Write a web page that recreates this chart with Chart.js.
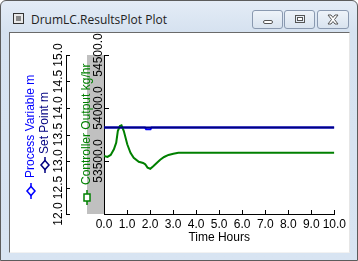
<!DOCTYPE html>
<html>
<head>
<meta charset="utf-8">
<script src="https://cdn.jsdelivr.net/npm/chart.js@4.4.0/dist/chart.umd.min.js"></script>
<style>
  body { margin: 0; width: 358px; height: 261px; overflow: hidden; background: #fff; }
  #win { position: absolute; left: 0; top: 0; width: 356px; height: 259px; border: 1px solid #5c5c5c;
         border-radius: 6px 6px 0 0; background: linear-gradient(#e4ecf6, #d6e2f0 30px, #d8e4f2); }
  #icon { position: absolute; left: 12px; top: 12px; width: 9px; height: 9px; border: 1px solid #333;
          background: #888; box-shadow: inset 0 0 0 2px #e8e8e8; }
  #title { position: absolute; left: 30px; top: 10px; font: 12px "Open Sans", "Liberation Sans", sans-serif; color: #222; }
  .btn { position: absolute; top: 9px; height: 17px; border: 1px solid #8a99b0; border-radius: 3px;
         background: linear-gradient(#eef3f9, #d9e3ef); }
  #client { position: absolute; left: 8px; top: 31px; width: 339px; height: 219px; border: 1px solid;
            border-color: #6a6a6a #e6e6e6 #f2f2f2 #6a6a6a; background: #fff; }
  canvas { position: absolute; left: 0; top: 0; }
</style>
</head>
<body>
<div id="win">
  <div id="icon"></div>
  <div id="title">DrumLC.ResultsPlot Plot</div>
  <div class="btn" style="left:251px;width:29px">
    <svg width="29" height="17"><rect x="10.5" y="9.5" width="9" height="3" rx="1.5" fill="#fff" stroke="#555"/></svg>
  </div>
  <div class="btn" style="left:283px;width:29px">
    <svg width="29" height="17"><rect x="10.5" y="4.5" width="9" height="7" fill="none" stroke="#555"/><rect x="12.5" y="6.5" width="5" height="3" fill="#fff" stroke="#555"/></svg>
  </div>
  <div class="btn" style="left:316px;width:30px">
    <svg width="30" height="17"><path d="M10 4 L13 4 L15 6.5 L17 4 L20 4 L16.5 8.5 L20 13 L17 13 L15 10.5 L13 13 L10 13 L13.5 8.5 Z" fill="#fff" stroke="#555"/></svg>
  </div>
  <div id="client"><canvas id="plot" width="339" height="219"></canvas></div>
</div>
<script>
// time axis (hours)
const timeTicks = [0, 1, 2, 3, 4, 5, 6, 7, 8, 9, 10]
// left axis, Process Variable / Set Point (m)
const pvTicks = [12.0, 12.5, 13.0, 13.5, 14.0, 14.5, 15.0]
// second left axis, Controller Output (kg/hr)
const coTicks = [53000, 53500, 54000, 54500]
const coLabels = ['', '53500.0', '54000.0', '54500.0']

const coTime = [0, 0.15, 0.29, 0.43, 0.53, 0.60, 0.69, 0.76, 0.86, 1.01, 1.15, 1.29, 1.51, 1.70, 1.79, 1.89, 2.01, 2.15, 2.30, 2.44, 2.61, 2.80, 3.01, 3.23, 10]
const controllerOutput = [53547, 53538, 53557, 53610, 53673, 53783, 53830, 53837, 53783, 53658, 53578, 53531, 53493, 53481, 53469, 53437, 53427, 53453, 53484, 53512, 53538, 53557, 53569, 53578, 53578]

const spTime = [0, 10]
const setPoint = [13.63, 13.63]

const pvTime = [0, 1.78, 1.83, 2.02, 2.06, 10]
const processVariable = [13.63, 13.63, 13.60, 13.60, 13.63, 13.63]

const FONT = '"Liberation Sans", Arial, sans-serif'

const pts = (xs, ys) => xs.map((x, i) => ({ x: x, y: ys[i] }))

function vtext(ctx, s, x, y, color, align) {
    ctx.save()
    ctx.translate(x, y)
    ctx.rotate(-Math.PI / 2)
    ctx.fillStyle = color
    ctx.textAlign = align
    ctx.textBaseline = 'middle'
    ctx.fillText(s, 0, 0)
    ctx.restore()
}

function diamond(ctx, x, y, color) {
    ctx.strokeStyle = color
    ctx.lineWidth = 1.5
    ctx.beginPath(); ctx.moveTo(x, y - 8); ctx.lineTo(x, y + 8); ctx.stroke()
    ctx.fillStyle = '#fff'
    ctx.beginPath()
    ctx.moveTo(x, y - 4.5); ctx.lineTo(x + 4, y); ctx.lineTo(x, y + 4.5); ctx.lineTo(x - 4, y); ctx.closePath()
    ctx.fill(); ctx.stroke()
}

const sidePlugin = {
    id: 'side',
    beforeDraw(chart) {
        const ctx = chart.ctx, a = chart.chartArea
        const co = chart.scales.yCO
        ctx.fillStyle = '#c0c0c0'
        ctx.fillRect(co.right - 17, a.top, 17, a.bottom - a.top)
    },
    afterDraw(chart) {
        const ctx = chart.ctx, a = chart.chartArea
        const pv = chart.scales.yPV, co = chart.scales.yCO, x = chart.scales.x
        ctx.save()
        ctx.strokeStyle = '#000'
        ctx.lineWidth = 1
        // tick marks point into the plot
        pv.ticks.forEach(t => {
            const y = Math.round(pv.getPixelForValue(t.value)) + 0.5
            ctx.beginPath(); ctx.moveTo(pv.right, y); ctx.lineTo(pv.right + 4, y); ctx.stroke()
        })
        co.ticks.forEach(t => {
            const y = Math.round(co.getPixelForValue(t.value)) + 0.5
            ctx.beginPath(); ctx.moveTo(co.right, y); ctx.lineTo(co.right + 5, y); ctx.stroke()
        })
        x.ticks.forEach(t => {
            const px = Math.round(x.getPixelForValue(t.value)) + 0.5
            ctx.beginPath(); ctx.moveTo(px, a.bottom); ctx.lineTo(px, a.bottom - 4); ctx.stroke()
        })
        ctx.font = '12px ' + FONT
        pv.ticks.forEach(t => vtext(ctx, t.value.toFixed(1), pv.right - 7.5, pv.getPixelForValue(t.value), '#000', 'center'))
        co.ticks.forEach((t, i) => vtext(ctx, coLabels[i], co.right - 5.5, co.getPixelForValue(t.value), '#000', 'center'))

        // rotated legend entries
        vtext(ctx, 'Process Variable m', 21, 145, '#0000ff', 'left')
        diamond(ctx, 21, 158, '#0000ff')
        vtext(ctx, 'Set Point m', 35, 121, '#000080', 'left')
        diamond(ctx, 35, 132, '#000080')
        vtext(ctx, 'Controller Output kg/hr', 77, 152, '#008000', 'left')
        ctx.strokeStyle = '#008000'
        ctx.lineWidth = 1.5
        ctx.beginPath(); ctx.moveTo(77, 157); ctx.lineTo(77, 172); ctx.stroke()
        ctx.fillStyle = '#fff'
        ctx.fillRect(74, 161, 6, 7); ctx.strokeRect(74, 161, 6, 7)
        ctx.restore()
    }
}

new Chart(document.getElementById('plot'), {
    type: 'line',
    data: {
        datasets: [
            { label: 'Set Point m', data: pts(spTime, setPoint), yAxisID: 'yPV', borderColor: '#000080' },
            { label: 'Controller Output kg/hr', data: pts(coTime, controllerOutput), yAxisID: 'yCO', borderColor: '#008000' },
            { label: 'Process Variable m', data: pts(pvTime, processVariable), yAxisID: 'yPV', borderColor: '#0000ff' }
        ]
    },
    options: {
        responsive: false,
        animation: false,
        layout: { padding: { top: 22, right: 12, left: 0, bottom: 0 } },
        elements: { point: { radius: 0 }, line: { borderWidth: 2, tension: 0 } },
        plugins: { legend: { display: false }, tooltip: { enabled: false } },
        scales: {
            x: {
                type: 'linear', min: 0, max: 10,
                afterBuildTicks: s => { s.ticks = timeTicks.map(v => ({ value: v })) },
                afterFit: s => { s.height = 38 },
                grid: { display: false, drawTicks: false },
                border: { color: '#000' },
                ticks: { color: '#000', font: { family: FONT, size: 12 }, padding: 3, maxRotation: 0, autoSkip: false,
                         callback: v => v.toFixed(1) },
                title: { display: true, text: 'Time Hours', color: '#000', font: { family: FONT, size: 12 },
                         padding: { top: 0, bottom: 7 } }
            },
            yPV: {
                position: 'left', weight: 1, min: 12, max: 15,
                afterBuildTicks: s => { s.ticks = pvTicks.map(v => ({ value: v })) },
                afterFit: s => { s.width = 56 },
                grid: { display: false },
                border: { color: '#000' },
                ticks: { display: false }
            },
            yCO: {
                position: 'left', weight: 0, min: 53000, max: 54500,
                afterBuildTicks: s => { s.ticks = coTicks.map(v => ({ value: v })) },
                afterFit: s => { s.width = 38 },
                grid: { display: false },
                border: { color: '#000' },
                ticks: { display: false }
            }
        }
    },
    plugins: [sidePlugin]
})
</script>
</body>
</html>
